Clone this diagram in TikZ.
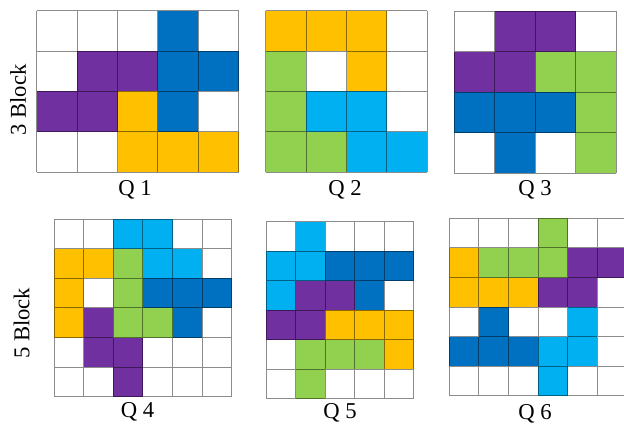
\documentclass[tikz,border=0pt]{standalone}
\usepackage{fontspec}
\setmainfont{Liberation Serif}
\usetikzlibrary{positioning}
\definecolor{qblue}{RGB}{0,112,192}
\definecolor{qcyan}{RGB}{0,176,240}
\definecolor{qpurple}{RGB}{112,48,160}
\definecolor{qyellow}{RGB}{255,192,0}
\definecolor{qgreen}{RGB}{146,208,80}
\tikzset{
  gridline/.style={black,opacity=0.45,line width=0.7pt},
  qlabel/.style={font=\fontsize{17}{20}\selectfont},
}
\begin{document}
\begin{tikzpicture}[x=0.75pt,y=0.75pt]
  \useasboundingbox (0,0) rectangle (624,429);
  \clip (0,0) rectangle (624,429);
  % Q 1
  \begin{scope}[shift={(36.7,418.3)}]
    \def\cs{40.4}
    \foreach \c/\r/\col in {3/0/qblue, 1/1/qpurple, 2/1/qpurple, 3/1/qblue, 4/1/qblue,
        0/2/qpurple, 1/2/qpurple, 2/2/qyellow, 3/2/qblue, 2/3/qyellow, 3/3/qyellow, 4/3/qyellow}
      \fill[\col] (\c*\cs,-\r*\cs) rectangle ++(\cs,-\cs);
    \draw[gridline] \foreach \i in {0,...,5} {(\i*\cs,0) -- (\i*\cs,-4*\cs)}
      \foreach \j in {0,...,4} {(0,-\j*\cs) -- (5*\cs,-\j*\cs)};
  \end{scope}
  % Q 2
  \begin{scope}[shift={(265.7,418.3)}]
    \def\cs{40.4}
    \foreach \c/\r/\col in {0/0/qyellow, 1/0/qyellow, 2/0/qyellow, 0/1/qgreen, 2/1/qyellow,
        0/2/qgreen, 1/2/qcyan, 2/2/qcyan, 0/3/qgreen, 1/3/qgreen, 2/3/qcyan, 3/3/qcyan}
      \fill[\col] (\c*\cs,-\r*\cs) rectangle ++(\cs,-\cs);
    \draw[gridline] \foreach \i in {0,...,4} {(\i*\cs,0) -- (\i*\cs,-4*\cs)}
      \foreach \j in {0,...,4} {(0,-\j*\cs) -- (4*\cs,-\j*\cs)};
  \end{scope}
  % Q 3
  \begin{scope}[shift={(454.3,417.8)}]
    \def\cs{40.5}
    \foreach \c/\r/\col in {1/0/qpurple, 2/0/qpurple, 0/1/qpurple, 1/1/qpurple, 2/1/qgreen, 3/1/qgreen,
        0/2/qblue, 1/2/qblue, 2/2/qblue, 3/2/qgreen, 1/3/qblue, 3/3/qgreen}
      \fill[\col] (\c*\cs,-\r*\cs) rectangle ++(\cs,-\cs);
    \draw[gridline] \foreach \i in {0,...,4} {(\i*\cs,0) -- (\i*\cs,-4*\cs)}
      \foreach \j in {0,...,4} {(0,-\j*\cs) -- (4*\cs,-\j*\cs)};
  \end{scope}
  % Q 4
  \begin{scope}[shift={(54.3,209.7)}]
    \def\cs{29.55}
    \foreach \c/\r/\col in {2/0/qcyan, 3/0/qcyan,
        0/1/qyellow, 1/1/qyellow, 2/1/qgreen, 3/1/qcyan, 4/1/qcyan,
        0/2/qyellow, 2/2/qgreen, 3/2/qblue, 4/2/qblue, 5/2/qblue,
        0/3/qyellow, 1/3/qpurple, 2/3/qgreen, 3/3/qgreen, 4/3/qblue,
        1/4/qpurple, 2/4/qpurple, 2/5/qpurple}
      \fill[\col] (\c*\cs,-\r*\cs) rectangle ++(\cs,-\cs);
    \draw[gridline] \foreach \i in {0,...,6} {(\i*\cs,0) -- (\i*\cs,-6*\cs)}
      \foreach \j in {0,...,6} {(0,-\j*\cs) -- (6*\cs,-\j*\cs)};
  \end{scope}
  % Q 5
  \begin{scope}[shift={(266,207.3)}]
    \def\cs{29.5}
    \foreach \c/\r/\col in {1/0/qcyan,
        0/1/qcyan, 1/1/qcyan, 2/1/qblue, 3/1/qblue, 4/1/qblue,
        0/2/qcyan, 1/2/qpurple, 2/2/qpurple, 3/2/qblue,
        0/3/qpurple, 1/3/qpurple, 2/3/qyellow, 3/3/qyellow, 4/3/qyellow,
        1/4/qgreen, 2/4/qgreen, 3/4/qgreen, 4/4/qyellow, 1/5/qgreen}
      \fill[\col] (\c*\cs,-\r*\cs) rectangle ++(\cs,-\cs);
    \draw[gridline] \foreach \i in {0,...,5} {(\i*\cs,0) -- (\i*\cs,-6*\cs)}
      \foreach \j in {0,...,6} {(0,-\j*\cs) -- (5*\cs,-\j*\cs)};
  \end{scope}
  % Q 6
  \begin{scope}[shift={(449.3,210.7)}]
    \def\cs{29.6}
    \foreach \c/\r/\col in {3/0/qgreen,
        0/1/qyellow, 1/1/qgreen, 2/1/qgreen, 3/1/qgreen, 4/1/qpurple, 5/1/qpurple,
        0/2/qyellow, 1/2/qyellow, 2/2/qyellow, 3/2/qpurple, 4/2/qpurple,
        1/3/qblue, 4/3/qcyan,
        0/4/qblue, 1/4/qblue, 2/4/qblue, 3/4/qcyan, 4/4/qcyan, 3/5/qcyan}
      \fill[\col] (\c*\cs,-\r*\cs) rectangle ++(\cs,-\cs);
    \draw[gridline] \foreach \i in {0,...,6} {(\i*\cs,0) -- (\i*\cs,-6*\cs)}
      \foreach \j in {0,...,6} {(0,-\j*\cs) -- (6*\cs,-\j*\cs)};
  \end{scope}
  % labels
  \node[qlabel] (q1) at (135,239) {Q 1};
  \node[qlabel] (q2) at (345,239) {Q 2};
  \node[qlabel] (q3) at (535,239) {Q 3};
  \node[qlabel] (q4) at (137.5,17) {Q 4};
  \node[qlabel] (q5) at (340,16) {Q 5};
  \node[qlabel] (q6) at (535,15) {Q 6};
  \node[qlabel,rotate=90] (blk3) at (18,329) {3 Block};
  \node[qlabel,rotate=90] (blk5) at (21.7,105.7) {5 Block};
\end{tikzpicture}
\end{document}
